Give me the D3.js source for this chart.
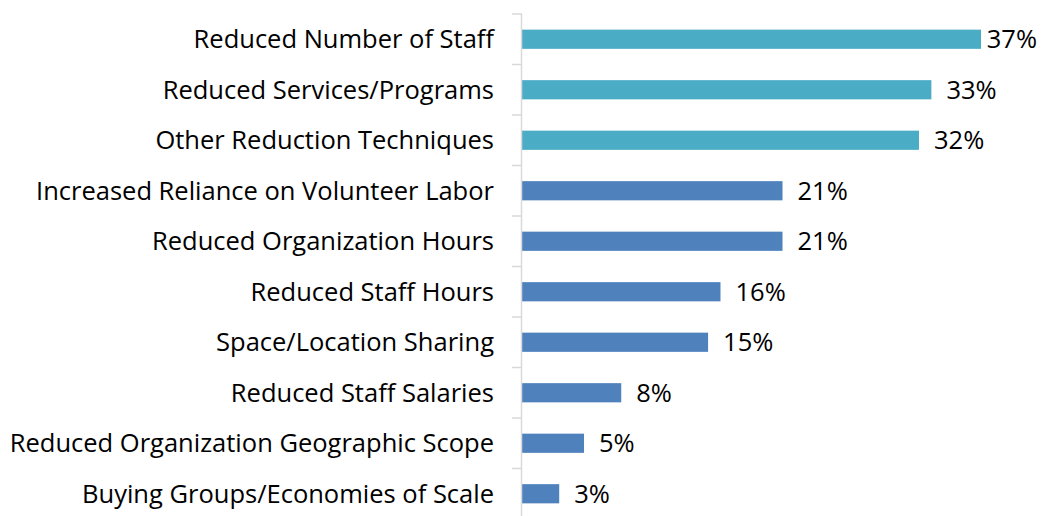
<!DOCTYPE html>
<html>
<head>
<meta charset="utf-8">
<script src="https://cdn.jsdelivr.net/npm/d3@7"></script>
<style>
  html, body { margin: 0; padding: 0; background: #fff; }
  svg { display: block; }
  text { font-family: "Open Sans", "Noto Sans", sans-serif; fill: #000; }
</style>
</head>
<body>
<svg id="chart" width="1041" height="516"></svg>
<script>
const categories = [
  "Reduced Number of Staff",
  "Reduced Services/Programs",
  "Other Reduction Techniques",
  "Increased Reliance on Volunteer Labor",
  "Reduced Organization Hours",
  "Reduced Staff Hours",
  "Space/Location Sharing",
  "Reduced Staff Salaries",
  "Reduced Organization Geographic Scope",
  "Buying Groups/Economies of Scale"
];
const values = [37, 33, 32, 21, 21, 16, 15, 8, 5, 3];
const highlighted = [true, true, true, false, false, false, false, false, false, false];

const W = 1041;
const fontSize = 25.5;
const svg = d3.select("#chart");
const x0 = 522;
const x = d3.scaleLinear().domain([0, 37]).range([x0, 981]);
const y = d3.scaleBand().domain(categories).range([14, 519]).paddingInner(0.62).paddingOuter(0.31);
const band = d3.scaleBand().domain(categories).range([14, 519]);

// bars
svg.append("g").selectAll("rect").data(categories).join("rect")
  .attr("x", x0)
  .attr("y", d => y(d))
  .attr("width", (d, i) => x(values[i]) - x0)
  .attr("height", y.bandwidth())
  .attr("fill", (d, i) => highlighted[i] ? "#4BACC6" : "#4F81BD");

// value labels, kept inside the right edge
svg.append("g").selectAll("text").data(categories).join("text")
  .attr("y", d => y(d) + y.bandwidth() / 2)
  .attr("dy", "0.35em")
  .attr("font-size", fontSize)
  .text((d, i) => values[i] + "%")
  .each(function(d, i) {
    const w = this.getComputedTextLength();
    const px = Math.min(x(values[i]) + 15, W - 4 - w);
    d3.select(this).attr("x", px);
  });

// category axis with ticks on band boundaries
const axisG = svg.append("g");
axisG.append("line")
  .attr("x1", x0 - 0.5).attr("x2", x0 - 0.5)
  .attr("y1", 14).attr("y2", 519)
  .attr("stroke", "#d9d9d9").attr("stroke-width", 1.5);
axisG.selectAll("line.tick").data(categories).join("line")
  .attr("class", "tick")
  .attr("x1", x0 - 10).attr("x2", x0)
  .attr("y1", d => band(d)).attr("y2", d => band(d))
  .attr("stroke", "#d9d9d9").attr("stroke-width", 1.5);

axisG.selectAll("text").data(categories).join("text")
  .attr("x", 494)
  .attr("y", d => y(d) + y.bandwidth() / 2)
  .attr("dy", "0.35em")
  .attr("text-anchor", "end")
  .attr("font-size", fontSize)
  .text(d => d);
</script>
</body>
</html>
